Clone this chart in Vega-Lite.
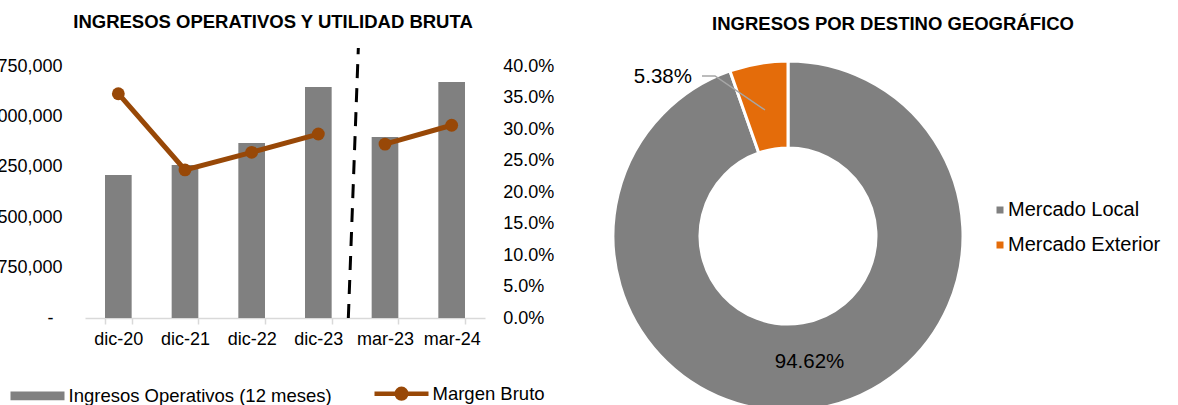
{
  "$schema": "https://vega.github.io/schema/vega-lite/v6.json",
  "background": "white",
  "padding": {"left": -19, "top": 13, "right": 0, "bottom": 0},
  "config": {
    "view": {"stroke": null},
    "font": "Liberation Sans",
    "axis": {"labelFont": "Liberation Sans", "labelColor": "#000000", "labelFontSize": 18},
    "legend": {"labelFont": "Liberation Sans", "labelColor": "#000000"},
    "title": {"font": "Liberation Sans", "fontSize": 18.5, "fontWeight": "bold", "color": "#000000"}
  },
  "spacing": 53,
  "resolve": {"scale": {"color": "independent"}, "legend": {"color": "independent"}},
  "hconcat": [
    {
      "width": 400,
      "height": 252,
      "title": {"text": "INGRESOS OPERATIVOS Y UTILIDAD BRUTA", "anchor": "middle", "frame": "group", "dx": -12, "offset": -9, "baseline": "bottom"},
      "layer": [
        {
          "data": {"values": [
            {"cat": "dic-20", "ingresos": 2128000, "margen": 0.356, "periodo": "anual"},
            {"cat": "dic-21", "ingresos": 2277000, "margen": 0.235, "periodo": "anual"},
            {"cat": "dic-22", "ingresos": 2604000, "margen": 0.263, "periodo": "anual"},
            {"cat": "dic-23", "ingresos": 3438000, "margen": 0.292, "periodo": "anual"},
            {"cat": "mar-23", "ingresos": 2693000, "margen": 0.276, "periodo": "trim"},
            {"cat": "mar-24", "ingresos": 3512000, "margen": 0.306, "periodo": "trim"}
          ]},
          "layer": [
            {
              "mark": {"type": "bar"},
              "encoding": {
                "x": {"field": "cat", "type": "ordinal", "sort": null,
                      "scale": {"paddingInner": 0.6, "paddingOuter": 0.3},
                      "axis": {"title": null, "labelAngle": 0, "domainColor": "#D9D9D9", "domainWidth": 1.5, "tickColor": "#D9D9D9", "tickWidth": 1.5, "tickSize": 6, "tickBand": "extent", "labelPadding": 6, "grid": false}},
                "y": {"field": "ingresos", "type": "quantitative",
                      "scale": {"domain": [0, 3750000], "nice": false},
                      "axis": {"title": null, "values": [0, 750000, 1500000, 2250000, 3000000, 3750000],
                               "labelExpr": "datum.value == 0 ? '-' : format(datum.value, ',')",
                               "domain": false, "ticks": false, "grid": false,
                               "labelPadding": {"condition": {"test": "datum.value === 0", "value": 32}, "value": 23}}},
                "color": {"datum": "Ingresos Operativos (12 meses)",
                          "scale": {"domain": ["Ingresos Operativos (12 meses)", "Margen Bruto"], "range": ["#808080", "#984807"]},
                          "legend": {"title": null, "orient": "none", "legendX": -56.75, "legendY": 318, "direction": "horizontal",
                                     "columnPadding": 33, "labelOffset": 21.75, "labelLimit": 0, "symbolSize": 2916, "labelFontSize": 18.5,
                                     "encode": {"symbols": {"update": {
                                       "shape": {"signal": "datum.value === 'Margen Bruto' ? 'M-1,0H1M0.18,0A0.18,0.18 0 1,1 -0.18,0A0.18,0.18 0 1,1 0.18,0Z' : 'M-1,-0.16H1V0.16H-1Z'"},
                                       "fill": {"signal": "datum.value === 'Margen Bruto' ? '#984807' : '#808080'"},
                                       "stroke": {"signal": "datum.value === 'Margen Bruto' ? '#984807' : '#808080'"},
                                       "strokeWidth": {"signal": "datum.value === 'Margen Bruto' ? 4.5 : 0"},
                                       "opacity": {"value": 1}
                                     }}}}}
              }
            },
            {
              "mark": {"type": "line", "strokeWidth": 5, "point": {"filled": true, "size": 165}},
              "encoding": {
                "x": {"field": "cat", "type": "ordinal", "sort": null},
                "y": {"field": "margen", "type": "quantitative",
                      "scale": {"domain": [0, 0.4], "nice": false},
                      "axis": {"title": null, "orient": "right", "values": [0, 0.05, 0.1, 0.15, 0.2, 0.25, 0.3, 0.35, 0.4],
                               "format": ".1%", "domain": false, "ticks": false, "grid": false, "labelPadding": 17.7}},
                "color": {"datum": "Margen Bruto"},
                "detail": {"field": "periodo"}
              }
            }
          ],
          "resolve": {"scale": {"y": "independent"}}
        },
        {
          "data": {"values": [
            {"px": 4.1, "py": 0.4286},
            {"px": 3.95, "py": 0}
          ]},
          "mark": {"type": "line", "color": "#000000", "strokeWidth": 3, "strokeDash": [14, 10]},
          "encoding": {
            "x": {"field": "px", "type": "quantitative", "scale": {"domain": [0, 6], "nice": false, "zero": false}, "axis": null},
            "y": {"field": "py", "type": "quantitative", "scale": {"domain": [0, 0.4], "nice": false}, "axis": null}
          }
        }
      ],
      "resolve": {"scale": {"x": "independent", "y": "independent"}}
    },
    {
      "width": 348,
      "height": 340,
      "title": {"text": "INGRESOS POR DESTINO GEOGRÁFICO", "anchor": "middle", "frame": "group", "dx": 105, "offset": 2.5, "baseline": "bottom"},
      "layer": [
        {
          "data": {"name": "geo", "values": [
            {"mercado": "Mercado Local", "pct": 94.62, "label": "94.62%"},
            {"mercado": "Mercado Exterior", "pct": 5.38, "label": "5.38%"}
          ]},
          "layer": [
            {
              "mark": {"type": "arc", "outerRadius": 175, "innerRadius": 88, "stroke": "white", "strokeWidth": 3},
              "encoding": {
                "theta": {"field": "pct", "type": "quantitative", "stack": true},
                "order": {"field": "pct", "sort": "descending"},
                "color": {"field": "mercado", "type": "nominal",
                          "scale": {"domain": ["Mercado Local", "Mercado Exterior"], "range": ["#808080", "#E46C0A"]},
                          "legend": {"title": null, "orient": "none", "legendX": 376, "legendY": 134, "direction": "vertical",
                                     "symbolType": "square", "symbolSize": 49, "symbolStrokeWidth": 0, "labelFontSize": 20,
                                     "labelOffset": -2, "rowPadding": 15}}
              }
            },
            {
              "mark": {"type": "text", "radius": 128, "fontSize": 20.5, "font": "Liberation Sans", "color": "#000000", "align": "center", "baseline": "middle"},
              "encoding": {
                "theta": {"field": "pct", "type": "quantitative", "stack": true},
                "order": {"field": "pct", "sort": "descending"},
                "text": {"condition": {"test": "datum.mercado === 'Mercado Local'", "field": "label"}, "value": ""}
              }
            },
            {
              "mark": {"type": "text", "radius": 161, "dx": -98, "fontSize": 20.5, "font": "Liberation Sans", "color": "#000000", "align": "center", "baseline": "middle"},
              "encoding": {
                "theta": {"field": "pct", "type": "quantitative", "stack": true},
                "order": {"field": "pct", "sort": "descending"},
                "text": {"condition": {"test": "datum.mercado === 'Mercado Exterior'", "field": "label"}, "value": ""}
              }
            }
          ]
        },
        {
          "data": {"values": [
            {"lx": -86, "ly": 160, "i": 1},
            {"lx": -73, "ly": 160, "i": 2},
            {"lx": -23, "ly": 126, "i": 3}
          ]},
          "mark": {"type": "line", "color": "#A6A6A6", "strokeWidth": 1.5},
          "encoding": {
            "x": {"field": "lx", "type": "quantitative", "scale": {"domain": [-174, 174], "nice": false, "zero": false}, "axis": null},
            "y": {"field": "ly", "type": "quantitative", "scale": {"domain": [-170, 170], "nice": false, "zero": false}, "axis": null},
            "order": {"field": "i"}
          }
        }
      ]
    }
  ]
}
